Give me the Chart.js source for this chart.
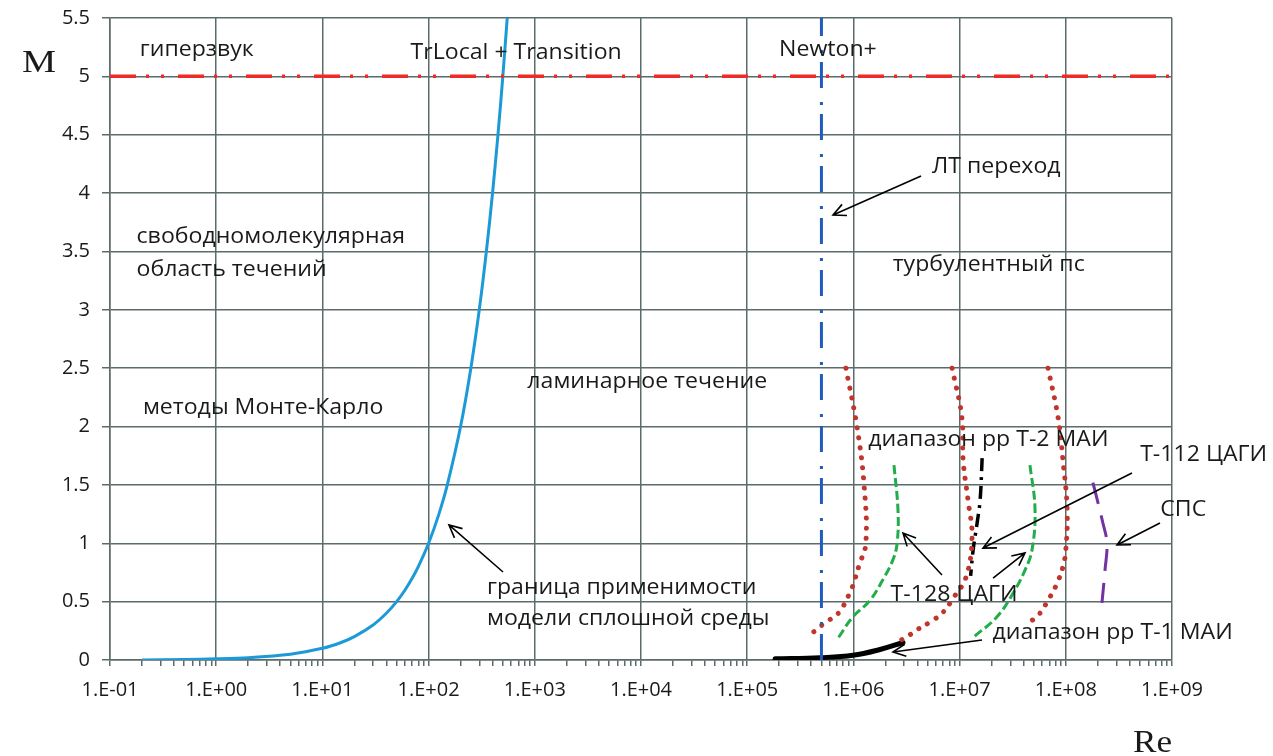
<!DOCTYPE html>
<html><head><meta charset="utf-8">
<script src="https://cdn.jsdelivr.net/npm/chart.js@4/dist/chart.umd.min.js"></script>
<style>html,body{margin:0;padding:0;background:#fff}canvas{display:block}</style>
</head><body>
<canvas id="c" width="1273" height="756"></canvas>
<script>
// ---------- data ----------
const xTickLabels = ['1.E-01','1.E+00','1.E+01','1.E+02','1.E+03','1.E+04','1.E+05','1.E+06','1.E+07','1.E+08','1.E+09'];
const yTickLabels = ['0','0.5','1','1.5','2','2.5','3','3.5','4','4.5','5','5.5'];

// continuum-model boundary (blue)
const boundaryRe = [0.2, 0.5, 1, 2, 5, 10, 15, 20, 30, 40, 50, 60, 70, 80, 100, 125, 150, 200, 250, 300, 350, 400, 450, 500, 550];
const boundaryM  = [0.0, 0.005, 0.01, 0.02, 0.05, 0.1, 0.15, 0.2, 0.3, 0.4, 0.5, 0.6, 0.7, 0.8, 1.0, 1.25, 1.5, 2.0, 2.5, 3.0, 3.5, 4.0, 4.5, 5.0, 5.5];

// hypersonic line M=5 (red dash-dot)
const hyperRe = [0.1, 1e9];
const hyperM  = [5, 5];

// laminar-turbulent transition Re=5e5 (blue dash-dot)
const transRe = [5e5, 5e5];
const transM  = [0, 5.5];

// T-2 MAI range (red dotted, three curves)
const t2aRe = [8.5e5, 1.08e6, 1.26e6, 1.31e6, 1.13e6, 1.04e6, 9.3e5, 7.2e5, 5.4e5, 4.5e5, 3.66e5];
const t2aM  = [2.5, 2.0, 1.5, 1.0, 0.81, 0.7, 0.58, 0.4, 0.32, 0.26, 0.2];
const t2bRe = [8.5e6, 1.05e7, 1.08e7, 1.2e7, 1.31e7, 1.15e7, 8.7e6, 7.0e6, 5.6e6, 4.0e6, 3.2e6, 2.8e6];
const t2bM  = [2.5, 2.08, 1.71, 1.37, 1.05, 0.71, 0.53, 0.41, 0.34, 0.26, 0.2, 0.17];
const t2cRe = [6.8e7, 8.45e7, 9.4e7, 1.03e8, 1.0e8, 9.4e7, 8.3e7, 7.1e7, 5.35e7, 4.3e7];
const t2cM  = [2.5, 2.08, 1.71, 1.29, 0.94, 0.8, 0.66, 0.54, 0.37, 0.32];

// T-128 TsAGI (green dashed, two curves)
const t128aRe = [2.41e6, 2.63e6, 2.58e6, 2.36e6, 1.9e6, 1.43e6, 9.9e5, 7.2e5];
const t128aM  = [1.67, 1.28, 1.0, 0.86, 0.69, 0.51, 0.37, 0.19];
const t128bRe = [4.6e7, 5.13e7, 4.8e7, 4.13e7, 3.18e7, 2.25e7, 1.37e7];
const t128bM  = [1.67, 1.29, 0.94, 0.77, 0.57, 0.37, 0.2];

// T-112 TsAGI (black dash-dot)
const t112Re = [1.63e7, 1.56e7, 1.46e7, 1.34e7, 1.27e7];
const t112M  = [1.73, 1.37, 1.17, 0.94, 0.72];

// SPS (purple long dash)
const spsRe = [1.8e8, 2.24e8, 2.44e8, 2.34e8, 2.19e8];
const spsM  = [1.52, 1.17, 1.0, 0.77, 0.49];

// T-1 MAI range (black thick)
const t1Re = [1.83e5, 4.85e5, 9.9e5, 1.78e6, 2.93e6];
const t1M  = [0.01, 0.02, 0.04, 0.09, 0.15];

// ---------- annotations (position: log10(Re), M) ----------
const notes = [
  {t:'гиперзвук', lx:-0.72, m:5.23},
  {t:'TrLocal + Transition', lx:1.83, m:5.2},
  {t:'Newton+', lx:5.30, m:5.23},
  {t:'ЛТ переход', lx:6.74, m:4.22},
  {t:'свободномолекулярная', lx:-0.75, m:3.62},
  {t:'область течений', lx:-0.75, m:3.34},
  {t:'турбулентный пс', lx:6.37, m:3.38},
  {t:'ламинарное течение', lx:2.93, m:2.38},
  {t:'методы Монте-Карло', lx:-0.69, m:2.16},
  {t:'диапазон рр Т-2 МАИ', lx:6.14, m:1.885},
  {t:'Т-112 ЦАГИ', lx:8.70, m:1.756},
  {t:'СПС', lx:8.89, m:1.285},
  {t:'Т-128 ЦАГИ', lx:6.35, m:0.557},
  {t:'граница применимости', lx:2.55, m:0.617},
  {t:'модели сплошной среды', lx:2.55, m:0.351},
  {t:'диапазон рр Т-1 МАИ', lx:7.31, m:0.231}
];
const arrows = [
  [6.637, 4.146, 5.808, 3.812],
  [2.701, 0.754, 2.192, 1.157],
  [6.834, 0.728, 6.467, 1.088],
  [7.315, 0.702, 7.616, 0.917],
  [8.623, 1.602, 7.220, 0.959],
  [8.887, 1.174, 8.482, 0.985],
  [7.211, 0.171, 6.373, 0.069]
];

// ---------- chart ----------
const pts = (xs, ys) => xs.map((x, i) => ({x: x, y: ys[i]}));
const GRID = '#5c6b6b';
const TXT = '#1a1a1a';
const isMajor = v => Math.abs(Math.log10(v) - Math.round(Math.log10(v))) < 1e-9;

const ds = (label, data, color, width, dash, extra) => Object.assign({
  label, data, borderColor: color, backgroundColor: color, borderWidth: width,
  borderDash: dash || [], pointRadius: 0, showLine: true, fill: false, tension: 0.4
}, extra || {});

const notesPlugin = {
  id: 'notes',
  afterDatasetsDraw(chart) {
    const ctx = chart.ctx, xs = chart.scales.x, ys = chart.scales.y;
    ctx.save();
    ctx.fillStyle = TXT;
    ctx.font = '21px "Open Sans"';
    ctx.textBaseline = 'middle';
    ctx.textAlign = 'left';
    notes.forEach(n => {
      const px = xs.getPixelForValue(Math.pow(10, n.lx));
      const py = ys.getPixelForValue(n.m);
      ctx.save();
      ctx.translate(px, py);
      ctx.scale(1.1, 1);
      ctx.fillText(n.t, 0, 0);
      ctx.restore();
    });
    ctx.strokeStyle = '#000';
    ctx.lineWidth = 1.6;
    arrows.forEach(a => {
      const x1 = xs.getPixelForValue(Math.pow(10, a[0])), y1 = ys.getPixelForValue(a[1]);
      const x2 = xs.getPixelForValue(Math.pow(10, a[2])), y2 = ys.getPixelForValue(a[3]);
      const ang = Math.atan2(y2 - y1, x2 - x1), L = 14, w = 0.45;
      ctx.beginPath();
      ctx.moveTo(x1, y1); ctx.lineTo(x2, y2);
      ctx.moveTo(x2 - L * Math.cos(ang - w), y2 - L * Math.sin(ang - w));
      ctx.lineTo(x2, y2);
      ctx.lineTo(x2 - L * Math.cos(ang + w), y2 - L * Math.sin(ang + w));
      ctx.stroke();
    });
    // axis titles
    ctx.font = '32px "Liberation Serif"';
    ctx.textBaseline = 'alphabetic';
    ctx.save(); ctx.translate(22, 72); ctx.scale(1.2, 1); ctx.fillText('M', 0, 0); ctx.restore();
    ctx.save(); ctx.translate(1133, 752); ctx.scale(1.1, 1); ctx.fillText('Re', 0, 0); ctx.restore();
    ctx.restore();
  }
};

new Chart(document.getElementById('c'), {
  type: 'scatter',
  data: {
    datasets: [
      ds('hyper', pts(hyperRe, hyperM), '#ee2b24', 3.5, [26, 10, 3, 12, 3, 14], {tension: 0}),
      ds('boundary', pts(boundaryRe, boundaryM), '#1c9ad8', 3, [], {tension: 0.3}),
      ds('trans', pts(transRe, transM), '#1f5cbf', 3, [26, 9, 3, 14], {tension: 0}),
      ds('t2a', pts(t2aRe, t2aM), '#c0352c', 5, [0.1, 10], {borderCapStyle: 'round'}),
      ds('t2b', pts(t2bRe, t2bM), '#c0352c', 5, [0.1, 10], {borderCapStyle: 'round'}),
      ds('t2c', pts(t2cRe, t2cM), '#c0352c', 5, [0.1, 10], {borderCapStyle: 'round'}),
      ds('t128a', pts(t128aRe, t128aM), '#21ad4a', 3, [9, 4]),
      ds('t128b', pts(t128bRe, t128bM), '#21ad4a', 3, [9, 4]),
      ds('t112', pts(t112Re, t112M), '#000', 3.5, [13, 6, 3, 6]),
      ds('sps', pts(spsRe, spsM), '#7232a2', 3, [22, 12]),
      ds('t1', pts(t1Re, t1M), '#000', 5, [], {borderCapStyle: 'round'})
    ]
  },
  options: {
    responsive: false,
    animation: false,
    events: [],
    layout: {padding: {left: 0, top: 18, right: 101, bottom: 0}},
    plugins: {legend: {display: false}, tooltip: {enabled: false}},
    scales: {
      x: {
        type: 'logarithmic', min: 0.1, max: 1e9,
        afterBuildTicks: (s) => {
          const t = [];
          for (let e = -1; e <= 8; e++) for (let k = 1; k <= 9; k++) t.push({value: k * Math.pow(10, e)});
          t.push({value: 1e9});
          s.ticks = t;
        },
        afterFit: (s) => { s.height = 96; },
        grid: {
          color: (c) => (c.tick && isMajor(c.tick.value)) ? GRID : 'rgba(0,0,0,0)',
          tickColor: GRID, lineWidth: 1.5, tickLength: 6, drawTicks: true
        },
        border: {color: GRID, width: 1.5},
        ticks: {
          autoSkip: false, maxRotation: 0, padding: 12, color: TXT,
          font: {family: '"Open Sans"', size: 20},
          callback: (v) => isMajor(v) ? xTickLabels[Math.round(Math.log10(v)) + 1] : ''
        }
      },
      y: {
        type: 'linear', min: 0, max: 5.5,
        afterFit: (s) => { s.width = 110; s.paddingTop = 0; s.paddingBottom = 0; },
        grid: {color: GRID, lineWidth: 1.5, tickLength: 8, tickColor: GRID},
        border: {color: GRID, width: 1.5},
        ticks: {
          stepSize: 0.5, padding: 12, color: TXT,
          font: {family: '"Open Sans"', size: 20},
          callback: (v) => yTickLabels[Math.round(v * 2)]
        }
      }
    }
  },
  plugins: [notesPlugin]
});
</script>
</body></html>
